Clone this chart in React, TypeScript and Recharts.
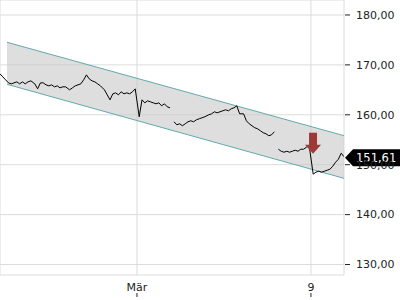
import React from 'react';
import {
  ComposedChart,
  Line,
  Area,
  XAxis,
  YAxis,
  CartesianGrid,
  ReferenceDot,
} from 'recharts';

// trading sessions, day offset relative to Mon 2 March
const sessionDays = [-4, -3, -2, -1, 0, 1, 2, 3, 4, 5];
const feb25 = [168.2, 167.6, 167.0, 166.4, 166.2, 166.4, 166.6, 166.2, 166.6, 166.2, 166.6, 166.8];
const feb26 = [166.2, 165.2, 166.4, 166.4, 166.0, 165.8, 166.0, 165.6, 165.8, 165.4, 165.6, 165.6];
const feb27 = [165.0, 165.4, 165.8, 166.0, 166.2, 167.0, 168.0, 167.2, 166.8, 166.6, 166.2, 165.8];
const feb28 = [165.0, 164.0, 163.0, 164.2, 164.4, 164.0, 164.6, 164.2, 164.4, 164.2, 164.6, 165.2];
const mar02 = [159.6, 163.0, 162.4, 162.8, 162.6, 162.4, 162.2, 162.4, 161.8, 162.2, 161.6, 161.4];
const mar03 = [158.6, 158.0, 158.2, 157.8, 158.2, 158.6, 158.8, 158.6, 159.0, 159.2, 159.4, 159.6];
const mar04 = [160.0, 160.2, 160.6, 160.4, 160.6, 160.8, 161.0, 160.8, 161.2, 161.4, 161.8, 160.2];
const mar05 = [160.2, 158.8, 158.2, 157.8, 157.4, 157.2, 156.8, 156.4, 156.2, 155.8, 156.0, 156.6];
const mar06 = [153.1, 152.7, 152.5, 152.7, 152.5, 152.7, 152.9, 152.7, 153.1, 153.1, 153.5, 153.8];
const mar09 = [148.1, 148.5, 148.7, 148.5, 148.7, 148.9, 149.1, 149.7, 150.5, 151.1, 152.3, 151.61];
const sessionPrices = [feb25, feb26, feb27, feb28, mar02, mar03, mar04, mar05, mar06, mar09];
const gapBefore = [1, 4]; // sessions that open with a visible gap

// trend channel
const channelT = [-3.736, 5.95];
const channelUpper = [174.53, 155.81];
const channelLower = [166.11, 147.27];

const xTicks = [0, 5];
const xTickLabels = ['Mär', '9'];
const yTicks = [130, 140, 150, 160, 170, 180];
const lastPrice = 151.61;
const signalT = 5.06;
const signalPrice = 152.2;

const priceData = sessionDays.flatMap((d, k) => {
  const pts = sessionPrices[k].map((v, i) => ({ t: d + 0.064 + i * 0.0805, v }));
  return gapBefore.includes(d) ? [{ t: d, v: null }, ...pts] : pts;
});

const channelData = channelT.map((t, i) => ({
  t,
  up: channelUpper[i],
  lo: channelLower[i],
  band: [channelLower[i], channelUpper[i]],
}));

const fmt = (v: number) => v.toFixed(2).replace('.', ',');
const FONT = 'DejaVu Sans, sans-serif';

const XTick = (props: any) => {
  const { x, y, payload } = props;
  const idx = xTicks.indexOf(payload.value);
  return (
    <g>
      <text x={x} y={y + 8} textAnchor="middle" fontSize={11} fontFamily={FONT} fill="#222">
        {xTickLabels[idx]}
      </text>
      <line x1={x} x2={x} y1={y + 10} y2={y + 14} stroke="#222" />
    </g>
  );
};

const YTick = (props: any) => {
  const { x, y, payload } = props;
  return (
    <g>
      <line x1={x + 1} x2={x + 6} y1={y} y2={y} stroke="#222" />
      <text x={x + 12} y={y} dy="0.35em" fontSize={11} fontFamily={FONT} fill="#222">
        {fmt(payload.value)}
      </text>
    </g>
  );
};

const SignalArrow = (props: any) => {
  const { cx, cy } = props;
  return (
    <g>
      <rect x={cx - 4} y={cy - 21} width={8} height={13} fill="#9c3a37" />
      <polygon points={`${cx - 8},${cy - 9} ${cx + 8},${cy - 9} ${cx},${cy}`} fill="#9c3a37" />
    </g>
  );
};

const PriceTag = (props: any) => {
  const { cx, cy } = props;
  const c = cy + 1;
  return (
    <g>
      <polygon
        points={`${cx + 1},${c} ${cx + 9},${c - 8.5} 400,${c - 8.5} 400,${c + 8.5} ${cx + 9},${c + 8.5}`}
        fill="#000"
      />
      <text x={cx + 12} y={c} dy="0.35em" fontSize={11.5} fontFamily={FONT} fill="#fff">
        {fmt(lastPrice)}
      </text>
    </g>
  );
};

export default function App() {
  return (
    <div style={{ position: 'absolute', left: 0, top: 0, width: 400, height: 300, background: '#fff' }}>
      <ComposedChart width={400} height={300} margin={{ top: 0, right: 0, left: 0, bottom: 0 }}>
        <CartesianGrid stroke="#dcdcdc" />
        <XAxis
          type="number"
          dataKey="t"
          domain={[-3.937, 5.95]}
          allowDataOverflow
          ticks={xTicks}
          tick={<XTick />}
          tickLine={false}
          axisLine={false}
          height={25}
        />
        <YAxis
          orientation="right"
          domain={[127.9, 183.0]}
          allowDataOverflow
          ticks={yTicks}
          tick={<YTick />}
          tickLine={false}
          axisLine={false}
          tickSize={0}
          tickMargin={0}
          width={56}
        />
        <Area
          data={channelData}
          dataKey="band"
          type="linear"
          stroke="none"
          fill="#c8c8c8"
          fillOpacity={0.6}
          dot={false}
          activeDot={false}
          isAnimationActive={false}
        />
        <Line data={channelData} dataKey="up" type="linear" stroke="#62a8ad" strokeWidth={1} dot={false} activeDot={false} isAnimationActive={false} />
        <Line data={channelData} dataKey="lo" type="linear" stroke="#62a8ad" strokeWidth={1} dot={false} activeDot={false} isAnimationActive={false} />
        <Line data={priceData} dataKey="v" type="linear" stroke="#000" strokeWidth={1} dot={false} activeDot={false} isAnimationActive={false} />
        <ReferenceDot x={signalT} y={signalPrice} r={0} shape={<SignalArrow />} ifOverflow="visible" />
        <ReferenceDot x={5.95} y={lastPrice} r={0} shape={<PriceTag />} ifOverflow="visible" />
      </ComposedChart>
    </div>
  );
}
